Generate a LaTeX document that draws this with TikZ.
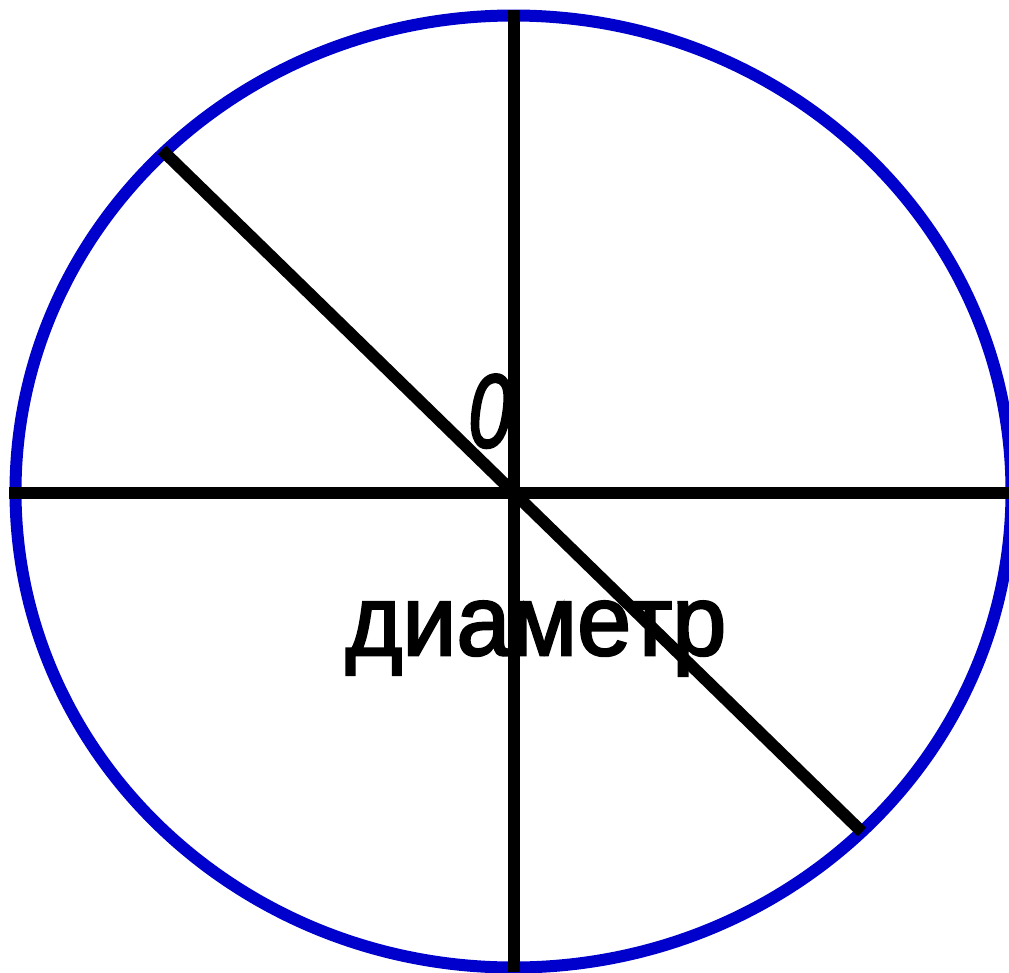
\documentclass[tikz,border=0pt]{standalone}
\usepackage{fontspec}
\setmainfont{Liberation Sans}
\newfontfamily\heavyfont[FakeBold=2.5]{Liberation Sans}
\definecolor{rimblue}{RGB}{0,0,204}
\begin{document}
\begin{tikzpicture}[x=1pt,y=-1pt,
  rim/.style={draw=rimblue,line width=12pt},
  diam/.style={draw=black,line width=12pt},
  lbl/.style={inner sep=0pt,font=\heavyfont\fontsize{100}{120}\selectfont}]
\useasboundingbox (0,0) rectangle (1009,972);
\coordinate (O) at (513.5,491.5);
\draw[rim] (O) ellipse [x radius=498pt, y radius=476pt];
\coordinate (T) at (513.5,10);
\coordinate (B) at (513.5,972);
\coordinate (L) at (9,492.5);
\coordinate (R) at (1009,492.5);
\coordinate (D1) at (162,150);
\coordinate (D2) at (862,832);
\draw[diam] (T) -- (B);
\draw[diam] (L) -- (R);
\draw[diam] (D1) -- (D2);
\node[lbl,anchor=base] (zero) at (490,447) {\scalebox{0.78}[1.04]{\itshape 0}};
\node[lbl,anchor=base] (dia) at (536,655) {\scalebox{0.97}[1]{диаметр}};
\end{tikzpicture}
\end{document}
